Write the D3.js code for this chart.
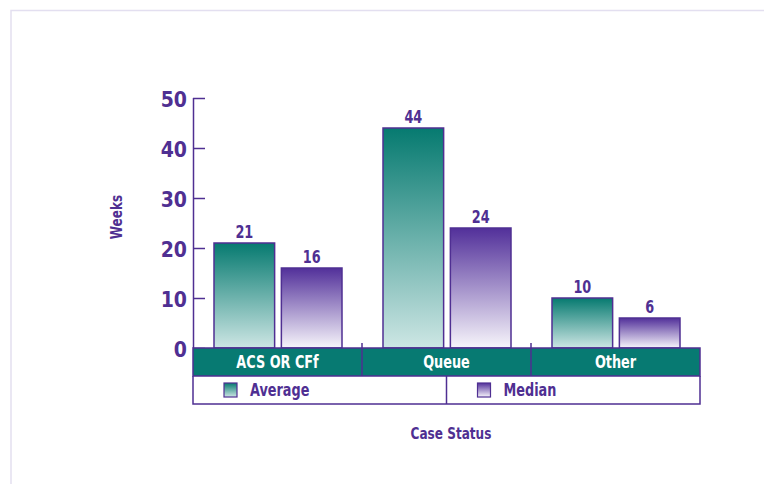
<!DOCTYPE html>
<html><head><meta charset="utf-8">
<script src="https://cdn.jsdelivr.net/npm/d3@7"></script>
<style>
html,body{margin:0;padding:0;background:#fff;}
text{font-family:"DejaVu Sans Condensed","DejaVu Sans",sans-serif;font-weight:bold;}
</style></head>
<body>
<svg id="c" width="764" height="484"></svg>
<script>
const categories = ["ACS OR CFf", "Queue", "Other"];
const seriesNames = ["Average", "Median"];
const averageValues = [21, 44, 10];
const medianValues = [16, 24, 6];
const yTicks = [0, 10, 20, 30, 40, 50];
const yTitle = "Weeks";
const xTitle = "Case Status";

const svg = d3.select("#c");
const purple = "#4f2f92";
const teal = "#077a72";
const SX = 0.84;

function label(parent, x, y, txt, opts) {
  const t = parent.append("text")
    .attr("transform", `translate(${x},${y}) ${opts.rot ? "rotate(-90)" : ""} scale(${SX},1)`)
    .attr("text-anchor", opts.anchor || "middle")
    .attr("fill", opts.fill || purple)
    .attr("font-size", opts.size || 16)
    .text(txt);
  return t;
}

// frame
svg.append("path").attr("d", "M11,484V10.5H764").attr("fill", "none")
  .attr("stroke", "#e3dff0").attr("stroke-width", 1.5);

const defs = svg.append("defs");
const g1 = defs.append("linearGradient").attr("id", "gAvg").attr("x1", 0).attr("y1", 0).attr("x2", 0).attr("y2", 1);
g1.append("stop").attr("offset", "0%").attr("stop-color", "#067a70");
g1.append("stop").attr("offset", "100%").attr("stop-color", "#cde6e4");
const g2 = defs.append("linearGradient").attr("id", "gMed").attr("x1", 0).attr("y1", 0).attr("x2", 0).attr("y2", 1);
g2.append("stop").attr("offset", "0%").attr("stop-color", "#52309a");
g2.append("stop").attr("offset", "100%").attr("stop-color", "#f7f5fb");
const fills = ["url(#gAvg)", "url(#gMed)"];

const left = 193, right = 700, y0 = 348, yTop = 98;
const y = d3.scaleLinear().domain([0, 50]).range([y0, yTop]);
const x = d3.scaleBand().domain(categories).range([left, right]).paddingInner(0).paddingOuter(0);
const x1 = d3.scaleBand().domain(seriesNames).range([21, x.bandwidth() - 20]).paddingInner(0.1);

// y axis
const yAxis = d3.axisLeft(y).tickValues(yTicks).tickSize(-12).tickPadding(6);
const ga = svg.append("g").attr("transform", `translate(${left},0)`).call(yAxis);
ga.select(".domain").attr("stroke", purple).attr("stroke-width", 1.5).attr("d", `M0.5,${yTop}V${y0}`);
ga.selectAll(".tick line").attr("stroke", purple).attr("stroke-width", 1.5);
ga.selectAll(".tick text").attr("fill", purple).attr("font-size", 21).attr("dy", "0.4em")
  .attr("font-family", "'DejaVu Sans Condensed','DejaVu Sans',sans-serif").attr("font-weight", "bold");

// bars
const data = categories.map((c, i) => ({ c, vals: [averageValues[i], medianValues[i]] }));
const grp = svg.append("g");
data.forEach(d => {
  d.vals.forEach((v, j) => {
    const bx = x(d.c) + x1(seriesNames[j]);
    grp.append("rect").attr("x", bx).attr("y", y(v)).attr("width", x1.bandwidth())
      .attr("height", y0 - y(v)).attr("fill", fills[j]).attr("stroke", purple).attr("stroke-width", 1.5);
    label(grp, bx + x1.bandwidth() / 2, y(v) - 5, v, { size: 17 });
  });
});

// category band
const bandH = 28;
svg.append("rect").attr("x", left).attr("y", y0).attr("width", right - left).attr("height", bandH)
  .attr("fill", teal).attr("stroke", purple).attr("stroke-width", 1.5);
categories.forEach((c, i) => {
  if (i > 0) svg.append("line").attr("x1", x(c)).attr("x2", x(c)).attr("y1", y0 - 5).attr("y2", y0 + bandH)
    .attr("stroke", purple).attr("stroke-width", 1.5);
  label(svg, x(c) + x.bandwidth() / 2, y0 + 20, c, { fill: "#fff", size: 17 });
});

// legend row
const legY = y0 + bandH, legH = 28;
svg.append("path").attr("d", `M${left},${legY}V${legY + legH}H${right}V${legY}`).attr("fill", "none")
  .attr("stroke", purple).attr("stroke-width", 1.5);
const mid = (left + right) / 2;
svg.append("line").attr("x1", mid).attr("x2", mid).attr("y1", legY).attr("y2", legY + legH)
  .attr("stroke", purple).attr("stroke-width", 1.5);
seriesNames.forEach((s, j) => {
  const lx = left + 31 + j * (mid - left);
  svg.append("rect").attr("x", lx).attr("y", legY + 7).attr("width", 13).attr("height", 14)
    .attr("fill", fills[j]).attr("stroke", purple).attr("stroke-width", 1.2);
  label(svg, lx + 26, legY + 20, s, { anchor: "start", size: 17 });
});

// titles
label(svg, 122, 217, yTitle, { rot: true, size: 16 });
label(svg, 451, 439, xTitle, { size: 16 });
</script>
</body></html>
